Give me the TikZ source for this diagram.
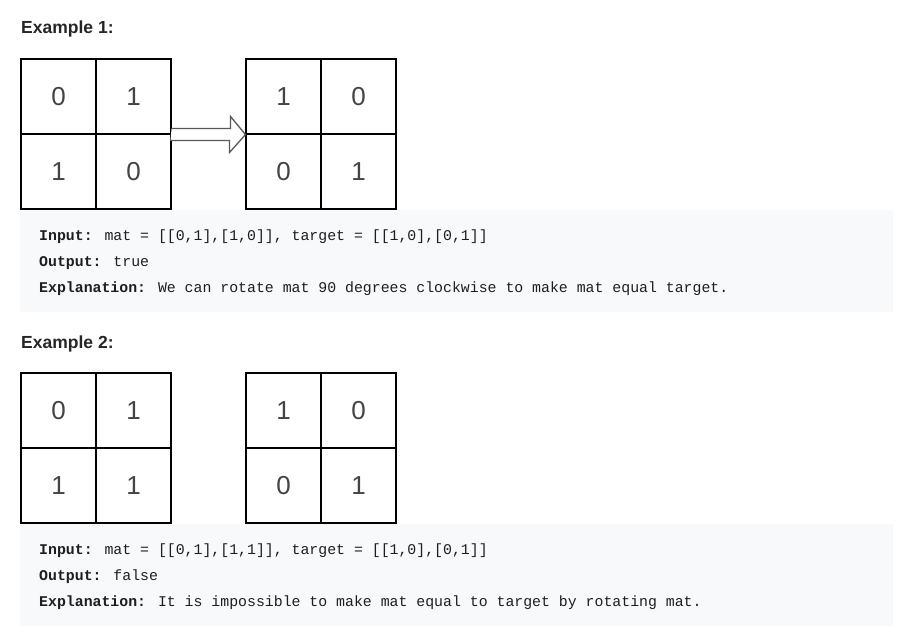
\documentclass[tikz,border=0pt]{standalone}
\usepackage{fontspec}
\setmainfont{Liberation Sans}
\newfontfamily\codefont{Liberation Mono}
\usetikzlibrary{calc}
\definecolor{txt}{HTML}{262626}
\definecolor{codetxt}{HTML}{1E1E1E}
\definecolor{codebg}{HTML}{F7F9FA}
\definecolor{digit}{HTML}{444444}
\tikzset{
  cell/.style={draw=black, line width=1.1pt, minimum size=75pt, inner sep=0pt,
    font=\fontsize{26}{30}\selectfont, text=digit},
  heading/.style={anchor=base west, inner sep=0pt, text=txt,
    font=\fontsize{17.5}{20}\selectfont\bfseries},
  code/.style={anchor=base west, inner sep=0pt, text=codetxt,
    font=\fontsize{14.85}{17}\selectfont\codefont},
  codebox/.style={fill=codebg, draw=none},
  hollowarrow/.style={draw=black!65, line width=1.3pt, fill=white, line join=miter}
}
\begin{document}
\begin{tikzpicture}[x=1pt,y=-1pt]
\useasboundingbox[fill=white] (0,0) rectangle (904,639);

% Example 1
\node[heading] (h1) at (21,34) {Example 1:};
\node[cell] (a11) at (58.5,96.5) {0};
\node[cell] (a12) at (133.5,96.5) {1};
\node[cell] (a21) at (58.5,171.5) {1};
\node[cell] (a22) at (133.5,171.5) {0};
\node[cell] (b11) at (283.5,96.5) {1};
\node[cell] (b12) at (358.5,96.5) {0};
\node[cell] (b21) at (283.5,171.5) {0};
\node[cell] (b22) at (358.5,171.5) {1};
\coordinate (arrS) at (a12.south east);
\coordinate (arrT) at (b11.south west);
\draw[hollowarrow] (arrS) ++(0,-6) -- ++(59,0) -- ++(0,-12) -- (arrT) -- ++(-16,18) -- ++(0,-12) -- ++(-59,0);

\path[codebox] (20,210) rectangle (893,312);
\node[code] (i1) at (39,240) {\textbf{Input:} mat = [[0,1],[1,0]], target = [[1,0],[0,1]]};
\node[code] (o1) at (39,266) {\textbf{Output:} true};
\node[code] (e1) at (39,292) {\textbf{Explanation:} We can rotate mat 90 degrees clockwise to make mat equal target.};

% Example 2
\node[heading] (h2) at (21,348) {Example 2:};
\node[cell] (c11) at (58.5,410.5) {0};
\node[cell] (c12) at (133.5,410.5) {1};
\node[cell] (c21) at (58.5,485.5) {1};
\node[cell] (c22) at (133.5,485.5) {1};
\node[cell] (d11) at (283.5,410.5) {1};
\node[cell] (d12) at (358.5,410.5) {0};
\node[cell] (d21) at (283.5,485.5) {0};
\node[cell] (d22) at (358.5,485.5) {1};

\path[codebox] (20,524) rectangle (893,626);
\node[code] (i2) at (39,554) {\textbf{Input:} mat = [[0,1],[1,1]], target = [[1,0],[0,1]]};
\node[code] (o2) at (39,580) {\textbf{Output:} false};
\node[code] (e2) at (39,606) {\textbf{Explanation:} It is impossible to make mat equal to target by rotating mat.};
\end{tikzpicture}
\end{document}
